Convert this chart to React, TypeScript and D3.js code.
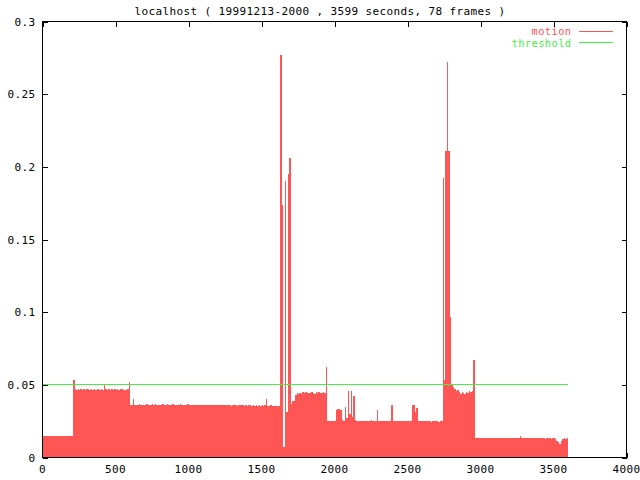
import React from "react";
import * as d3 from "d3";

const titleText = "localhost ( 19991213-2000 , 3599 seconds, 78 frames )";
const seriesNames = ["motion", "threshold"];
const sampleSeconds = 10;
const durationSeconds = 3599;
const thresholdValue = 0.05;
const xTicks = [0, 500, 1000, 1500, 2000, 2500, 3000, 3500, 4000];
const yTicks = [0, 0.05, 0.1, 0.15, 0.2, 0.25, 0.3];
const yTickLabels = ["0", "0.05", "0.1", "0.15", "0.2", "0.25", "0.3"];

// motion value for each 10-second sample, t = 0 .. 3590
const motion = [
  0.0148, 0.0150, 0.0149, 0.0151, 0.0149, 0.0150, 0.0148, 0.0150, 0.0151, 0.0149,
  0.0150, 0.0149, 0.0151, 0.0148, 0.0150, 0.0149, 0.0151, 0.0150, 0.0149, 0.0150,
  0.0150, 0.0530, 0.0468, 0.0465, 0.0470, 0.0467, 0.0469, 0.0464, 0.0470, 0.0466,
  0.0468, 0.0471, 0.0466, 0.0469, 0.0467, 0.0470, 0.0465, 0.0468, 0.0470, 0.0466,
  0.0469, 0.0467, 0.0505, 0.0468, 0.0465, 0.0470, 0.0467, 0.0469, 0.0466, 0.0468,
  0.0467, 0.0469, 0.0465, 0.0468, 0.0470, 0.0466, 0.0467, 0.0465, 0.0468, 0.0520,
  0.0362, 0.0358, 0.0405, 0.0364, 0.0360, 0.0363, 0.0366, 0.0361, 0.0364, 0.0359,
  0.0363, 0.0367, 0.0360, 0.0364, 0.0362, 0.0366, 0.0361, 0.0365, 0.0363, 0.0360,
  0.0364, 0.0362, 0.0367, 0.0361, 0.0363, 0.0365, 0.0360, 0.0364, 0.0362, 0.0366,
  0.0361, 0.0364, 0.0363, 0.0360, 0.0365, 0.0362, 0.0364, 0.0361, 0.0363, 0.0366,
  0.0362, 0.0360, 0.0364, 0.0361, 0.0363, 0.0359, 0.0364, 0.0362, 0.0360, 0.0363,
  0.0361, 0.0364, 0.0359, 0.0362, 0.0360, 0.0363, 0.0358, 0.0361, 0.0363, 0.0360,
  0.0359, 0.0362, 0.0360, 0.0363, 0.0358, 0.0361, 0.0359, 0.0362, 0.0360, 0.0357,
  0.0360, 0.0358, 0.0361, 0.0357, 0.0359, 0.0362, 0.0358, 0.0360, 0.0356, 0.0359,
  0.0357, 0.0360, 0.0358, 0.0355, 0.0359, 0.0357, 0.0360, 0.0356, 0.0358, 0.0355,
  0.0358, 0.0356, 0.0359, 0.0400, 0.0357, 0.0355, 0.0358, 0.0354, 0.0356, 0.0353,
  0.0355, 0.0352, 0.0356, 0.2770, 0.1740, 0.0070, 0.1900, 0.0310, 0.1950, 0.2060,
  0.0370, 0.0386, 0.0392, 0.0430, 0.0442, 0.0438, 0.0446, 0.0440, 0.0448, 0.0443,
  0.0450, 0.0441, 0.0447, 0.0444, 0.0452, 0.0445, 0.0440, 0.0449, 0.0443, 0.0451,
  0.0446, 0.0442, 0.0448, 0.0445, 0.0625, 0.0253, 0.0252, 0.0254, 0.0251, 0.0253,
  0.0252, 0.0330, 0.0335, 0.0332, 0.0328, 0.0256, 0.0254, 0.0350, 0.0270, 0.0460,
  0.0300, 0.0460, 0.0280, 0.0420, 0.0260, 0.0253, 0.0251, 0.0254, 0.0252, 0.0250,
  0.0253, 0.0251, 0.0254, 0.0250, 0.0252, 0.0255, 0.0251, 0.0253, 0.0250, 0.0330,
  0.0252, 0.0250, 0.0253, 0.0251, 0.0249, 0.0252, 0.0250, 0.0253, 0.0251, 0.0360,
  0.0251, 0.0249, 0.0252, 0.0250, 0.0248, 0.0251, 0.0249, 0.0252, 0.0250, 0.0248,
  0.0251, 0.0249, 0.0250, 0.0360, 0.0358, 0.0310, 0.0340, 0.0250, 0.0248, 0.0251,
  0.0249, 0.0251, 0.0248, 0.0250, 0.0252, 0.0249, 0.0247, 0.0250, 0.0248, 0.0251,
  0.0249, 0.0247, 0.0250, 0.0248, 0.1920, 0.0530, 0.2110, 0.2720, 0.2110, 0.0970,
  0.0500, 0.0485, 0.0470, 0.0455, 0.0462, 0.0448, 0.0440, 0.0452, 0.0445, 0.0438,
  0.0450, 0.0443, 0.0456, 0.0448, 0.0460, 0.0670, 0.0135, 0.0133, 0.0136, 0.0134,
  0.0136, 0.0134, 0.0137, 0.0135, 0.0133, 0.0136, 0.0134, 0.0137, 0.0135, 0.0133,
  0.0136, 0.0134, 0.0135, 0.0137, 0.0133, 0.0135, 0.0136, 0.0134, 0.0132, 0.0135,
  0.0134, 0.0136, 0.0133, 0.0135, 0.0134, 0.0132, 0.0135, 0.0145, 0.0133, 0.0134,
  0.0132, 0.0135, 0.0133, 0.0134, 0.0131, 0.0133, 0.0135, 0.0132, 0.0134, 0.0131,
  0.0133, 0.0131, 0.0134, 0.0132, 0.0130, 0.0133, 0.0131, 0.0132, 0.0130, 0.0133,
  0.0131, 0.0125, 0.0115, 0.0108, 0.0095, 0.0112, 0.0128, 0.0131, 0.0130, 0.0132,
];

const RED = "#ff5555";
const GREEN = "#44ee44";
const FONT = "'DejaVu Sans Mono', 'Liberation Mono', monospace";

export default function App() {
  const W = 640;
  const H = 480;
  const x = d3.scaleLinear().domain([0, 4000]).range([42.5, 626.5]);
  const y = d3.scaleLinear().domain([0, 0.3]).range([457.5, 21.5]);

  const pts: [number, number][] = motion.map((v, i) => [i * sampleSeconds, v]);
  pts.push([motion.length * sampleSeconds, motion[motion.length - 1]]);

  const area = d3
    .area<[number, number]>()
    .x((d) => x(d[0]))
    .y0(y(0))
    .y1((d) => y(d[1]))
    .curve(d3.curveStepAfter);

  const thrLine = d3.line<[number, number]>().x((d) => x(d[0])).y((d) => y(d[1]));
  const thrPts: [number, number][] = [
    [0, thresholdValue],
    [durationSeconds, thresholdValue],
  ];

  const [x0, x1] = x.range();
  const [yb, yt] = y.range();
  const tickLen = 5;
  const fs = 11;
  const ls = 0.38;

  return (
    <svg
      width={W}
      height={H}
      style={{ position: "absolute", left: 0, top: 0, background: "#fff" }}
      fontFamily={FONT}
      fontSize={fs}
    >
      <rect x={0} y={0} width={W} height={H} fill="#fff" />
      {/* ticks */}
      <g stroke="#000" strokeWidth={1} shapeRendering="crispEdges">
        {xTicks.map((t) => (
          <g key={"xt" + t}>
            <line x1={Math.round(x(t)) + 0.5} x2={Math.round(x(t)) + 0.5} y1={yb} y2={yb - tickLen} />
            <line x1={Math.round(x(t)) + 0.5} x2={Math.round(x(t)) + 0.5} y1={yt} y2={yt + tickLen} />
          </g>
        ))}
        {yTicks.map((t) => (
          <g key={"yt" + t}>
            <line x1={x0} x2={x0 + tickLen} y1={Math.round(y(t)) + 0.5} y2={Math.round(y(t)) + 0.5} />
            <line x1={x1} x2={x1 - tickLen} y1={Math.round(y(t)) + 0.5} y2={Math.round(y(t)) + 0.5} />
          </g>
        ))}
      </g>
      {/* motion */}
      <path d={area(pts) || ""} fill={RED} shapeRendering="crispEdges" />
      {/* threshold */}
      <path d={thrLine(thrPts) || ""} stroke={GREEN} strokeWidth={1} fill="none" shapeRendering="crispEdges" />
      {/* border */}
      <rect
        x={x0}
        y={yt}
        width={x1 - x0}
        height={yb - yt}
        fill="none"
        stroke="#000"
        strokeWidth={1}
        shapeRendering="crispEdges"
      />
      {/* tick labels */}
      <g fill="#000" letterSpacing={ls}>
        {xTicks.map((t) => (
          <text key={"xl" + t} x={x(t)} y={473} textAnchor="middle">
            {String(t)}
          </text>
        ))}
        {yTicks.map((t, i) => (
          <text key={"yl" + t} x={35.5} y={y(t) + 4} textAnchor="end">
            {yTickLabels[i]}
          </text>
        ))}
        <text x={320} y={15} textAnchor="middle">
          {titleText}
        </text>
      </g>
      {/* legend */}
      <g letterSpacing={0.4} fontSize={10.4}>
        <text x={571.5} y={35} textAnchor="end" fill={RED}>
          {seriesNames[0]}
        </text>
        <line x1={579} x2={613} y1={31.5} y2={31.5} stroke={RED} strokeWidth={1} shapeRendering="crispEdges" />
        <text x={571.5} y={46.5} textAnchor="end" fill={GREEN}>
          {seriesNames[1]}
        </text>
        <line x1={579} x2={613} y1={42.5} y2={42.5} stroke={GREEN} strokeWidth={1} shapeRendering="crispEdges" />
      </g>
    </svg>
  );
}
